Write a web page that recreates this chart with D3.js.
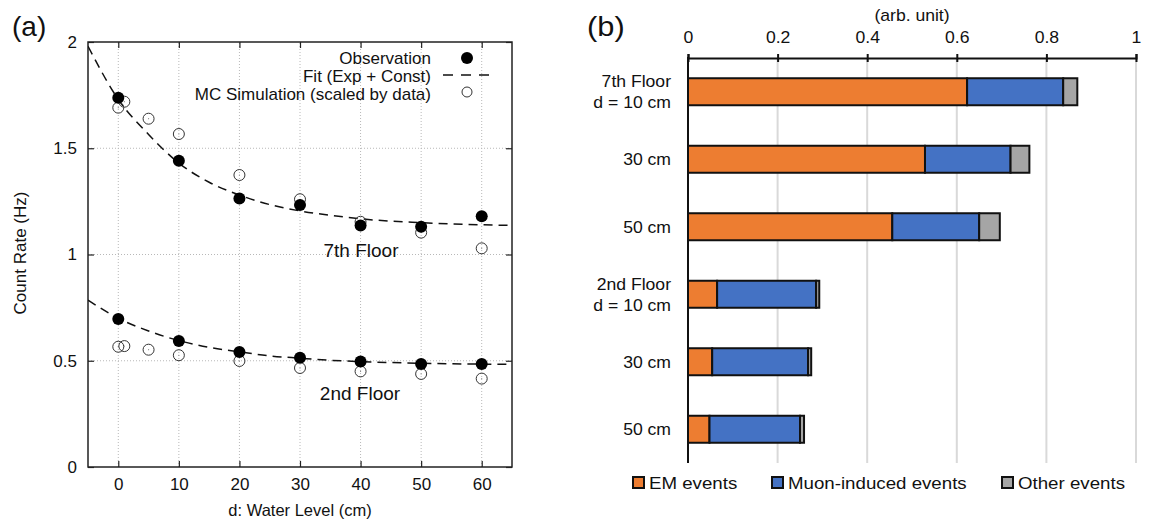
<!DOCTYPE html>
<html>
<head>
<meta charset="utf-8">
<script src="https://cdn.jsdelivr.net/npm/d3@7"></script>
<style>
    body { margin: 0; background: #fff; }
    svg { display: block; font-family: "Liberation Sans", Arial, sans-serif; }
</style>
</head>
<body>
<svg width="1151" height="520"></svg>
<script>
// panel (a): count rate vs water level
var waterLevel = [0, 10, 20, 30, 40, 50, 60];
var obs7th = [1.738, 1.441, 1.264, 1.233, 1.137, 1.131, 1.180];
var obs2nd = [0.696, 0.593, 0.541, 0.514, 0.497, 0.485, 0.485];

var mcLevel = [0, 1, 5, 10, 20, 30, 40, 50, 60];
var mc7th = [1.691, 1.719, 1.639, 1.567, 1.374, 1.260, 1.154, 1.103, 1.029];
var mc2nd = [0.566, 0.569, 0.552, 0.526, 0.499, 0.466, 0.450, 0.438, 0.416];

// fit curves
var fitLevel = [-5, 0, 5, 10, 15, 20, 25, 30, 35, 40, 50, 60, 65];
var fit7th = [1.98, 1.73, 1.565, 1.43, 1.34, 1.28, 1.235, 1.205, 1.185, 1.168, 1.15, 1.14, 1.137];
var fit2nd = [0.785, 0.70, 0.64, 0.595, 0.563, 0.542, 0.523, 0.512, 0.502, 0.496, 0.488, 0.484, 0.483];

var xTicksA = [0, 10, 20, 30, 40, 50, 60];
var yTicksA = [0, 0.5, 1, 1.5, 2];

// panel (b): event composition
var barIds = ["f7_10", "f7_30", "f7_50", "f2_10", "f2_30", "f2_50"];
var barLabels = [["7th Floor", "d = 10 cm"], ["30 cm"], ["50 cm"], ["2nd Floor", "d = 10 cm"], ["30 cm"], ["50 cm"]];
var emEvents = [0.623, 0.529, 0.456, 0.065, 0.054, 0.048];
var muonEvents = [0.2145, 0.191, 0.194, 0.221, 0.214, 0.202];
var otherEvents = [0.0315, 0.042, 0.046, 0.007, 0.007, 0.009];
var xTicksB = [0, 0.2, 0.4, 0.6, 0.8, 1];
var seriesNames = ["EM events", "Muon-induced events", "Other events"];
var seriesColors = ["#ed7d31", "#4472c4", "#a5a5a5"];

var svg = d3.select("svg");

function drawPanelA() {
    var x = d3.scaleLinear().domain([-5, 65]).range([88, 512]);
    var y = d3.scaleLinear().domain([0, 2]).range([467, 42]);
    var g = svg.append("g");

    // dotted grid
    g.append("g").selectAll("line").data(xTicksA).enter().append("line")
        .attr("x1", function (d) { return x(d); }).attr("x2", function (d) { return x(d); })
        .attr("y1", y(0)).attr("y2", y(2))
        .attr("stroke", "#b8b8b8").attr("stroke-width", 1).attr("stroke-dasharray", "1,2");
    g.append("g").selectAll("line").data([0.5, 1, 1.5]).enter().append("line")
        .attr("x1", x(-5)).attr("x2", x(65))
        .attr("y1", function (d) { return y(d); }).attr("y2", function (d) { return y(d); })
        .attr("stroke", "#b8b8b8").attr("stroke-width", 1).attr("stroke-dasharray", "1,2");

    // axes with inward ticks on all sides
    var left = g.append("g").attr("transform", "translate(" + x(-5) + ",0)")
        .call(d3.axisLeft(y).tickValues(yTicksA).tickSize(-6).tickPadding(11).tickFormat(d3.format("~g")));
    var right = g.append("g").attr("transform", "translate(" + x(65) + ",0)")
        .call(d3.axisRight(y).tickValues(yTicksA).tickSize(-6).tickFormat(""));
    var bottom = g.append("g").attr("transform", "translate(0," + y(0) + ")")
        .call(d3.axisBottom(x).tickValues(xTicksA).tickSize(-6).tickPadding(11));
    var top = g.append("g").attr("transform", "translate(0," + y(2) + ")")
        .call(d3.axisTop(x).tickValues(xTicksA).tickSize(-6).tickFormat(""));
    [left, right, bottom, top].forEach(function (a) {
        a.select(".domain").remove();
        a.selectAll("line").attr("stroke", "#222").attr("stroke-width", 1.2);
        a.selectAll("text").attr("font-size", 17).attr("fill", "#111").attr("font-family", null);
    });

    g.append("rect")
        .attr("x", x(-5)).attr("y", y(2))
        .attr("width", x(65) - x(-5)).attr("height", y(0) - y(2))
        .attr("fill", "none").attr("stroke", "#222").attr("stroke-width", 1.5);

    // fits
    svg.append("clipPath").attr("id", "clipA").append("rect")
        .attr("x", x(-5)).attr("y", y(2)).attr("width", x(65) - x(-5)).attr("height", y(0) - y(2));
    var line = d3.line()
        .x(function (d) { return x(d[0]); })
        .y(function (d) { return y(d[1]); })
        .curve(d3.curveMonotoneX);
    [fit7th, fit2nd].forEach(function (fit) {
        g.append("path")
            .datum(d3.zip(fitLevel, fit))
            .attr("clip-path", "url(#clipA)")
            .attr("fill", "none").attr("stroke", "#111").attr("stroke-width", 1.5)
            .attr("stroke-dasharray", "9,6")
            .attr("d", line);
    });

    // MC points (open)
    [mc7th, mc2nd].forEach(function (mc) {
        var pts = g.append("g").selectAll("g").data(d3.zip(mcLevel, mc)).enter().append("g");
        pts.append("circle")
            .attr("cx", function (d) { return x(d[0]); }).attr("cy", function (d) { return y(d[1]); })
            .attr("r", 5.5).attr("fill", "none").attr("stroke", "#333").attr("stroke-width", 1);
        pts.append("circle")
            .attr("cx", function (d) { return x(d[0]); }).attr("cy", function (d) { return y(d[1]); })
            .attr("r", 0.6).attr("fill", "#888");
    });

    // observation points (filled)
    [obs7th, obs2nd].forEach(function (obs) {
        g.append("g").selectAll("circle").data(d3.zip(waterLevel, obs)).enter().append("circle")
            .attr("cx", function (d) { return x(d[0]); }).attr("cy", function (d) { return y(d[1]); })
            .attr("r", 6).attr("fill", "#000");
    });

    // legend
    var legend = g.append("g").attr("font-size", 17).attr("fill", "#111").attr("text-anchor", "end");
    legend.append("text").attr("x", 431).attr("y", 64).text("Observation");
    legend.append("text").attr("x", 431).attr("y", 82).text("Fit (Exp + Const)");
    legend.append("text").attr("x", 431).attr("y", 100).text("MC Simulation (scaled by data)");
    legend.append("circle").attr("cx", 467).attr("cy", 58).attr("r", 6).attr("fill", "#000");
    legend.append("line").attr("x1", 443).attr("x2", 491).attr("y1", 75).attr("y2", 75)
        .attr("stroke", "#111").attr("stroke-width", 1.5).attr("stroke-dasharray", "10,8");
    legend.append("circle").attr("cx", 467).attr("cy", 92).attr("r", 5).attr("fill", "none")
        .attr("stroke", "#333").attr("stroke-width", 1);

    g.append("text").attr("x", 361).attr("y", 257).attr("font-size", 19).attr("text-anchor", "middle")
        .attr("fill", "#111").text("7th Floor");
    g.append("text").attr("x", 360).attr("y", 400).attr("font-size", 19).attr("text-anchor", "middle")
        .attr("fill", "#111").text("2nd Floor");

    // axis titles
    g.append("text").attr("x", 300).attr("y", 516).attr("font-size", 16.5).attr("text-anchor", "middle")
        .attr("fill", "#111").text("d: Water Level (cm)");
    g.append("text").attr("transform", "translate(26,253) rotate(-90)").attr("font-size", 17)
        .attr("text-anchor", "middle").attr("fill", "#111").text("Count Rate (Hz)");

    g.append("text").attr("x", 12).attr("y", 36).attr("font-size", 28).attr("fill", "#111").text("(a)");
}

function stretched(sel, x, y) {
    return sel.attr("transform", "translate(" + x + "," + y + ") scale(1.1,1)");
}

function drawPanelB() {
    var x = d3.scaleLinear().domain([0, 1]).range([688, 1136]);
    var y = d3.scaleBand().domain(barIds).range([58, 463]).paddingInner(0.6).paddingOuter(0.3);
    var g = svg.append("g");

    // light vertical grid
    g.append("g").selectAll("line").data(xTicksB.slice(1)).enter().append("line")
        .attr("x1", function (d) { return x(d); }).attr("x2", function (d) { return x(d); })
        .attr("y1", 58).attr("y2", 463)
        .attr("stroke", "#d9d9d9").attr("stroke-width", 2);

    var table = barIds.map(function (id, i) {
        return {id: id, em: emEvents[i], muon: muonEvents[i], other: otherEvents[i]};
    });
    var stack = d3.stack().keys(["em", "muon", "other"])(table);

    g.append("g").selectAll("g").data(stack).enter().append("g")
        .attr("fill", function (d, i) { return seriesColors[i]; })
        .selectAll("rect").data(function (d) { return d; }).enter().append("rect")
        .attr("x", function (d) { return x(d[0]); })
        .attr("y", function (d) { return y(d.data.id); })
        .attr("width", function (d) { return x(d[1]) - x(d[0]); })
        .attr("height", y.bandwidth())
        .attr("stroke", "#111").attr("stroke-width", 2);

    // top axis
    var axis = g.append("g").attr("transform", "translate(0,58)")
        .call(d3.axisTop(x).tickValues(xTicksB).tickSize(4).tickPadding(11).tickFormat(d3.format("~g")));
    axis.select(".domain").attr("stroke", "#111").attr("stroke-width", 2);
    axis.selectAll(".tick line").attr("y1", 4).attr("y2", -4).attr("stroke", "#111").attr("stroke-width", 2);
    axis.selectAll("text").attr("font-size", 16).attr("fill", "#111").attr("font-family", null)
        .attr("transform", "scale(1.1,1)");

    g.append("line").attr("x1", x(0)).attr("x2", x(0)).attr("y1", 57).attr("y2", 463)
        .attr("stroke", "#111").attr("stroke-width", 2);

    stretched(g.append("text"), x(0.5), 21).attr("font-size", 16).attr("text-anchor", "middle")
        .attr("fill", "#111").text("(arb. unit)");

    // category labels
    barIds.forEach(function (id, i) {
        var cy = y(id) + y.bandwidth() / 2;
        var lines = barLabels[i];
        lines.forEach(function (t, j) {
            var off = lines.length === 1 ? 6 : (j === 0 ? -4.5 : 16.5);
            stretched(g.append("text"), 671, cy + off).attr("font-size", 16).attr("text-anchor", "end")
                .attr("fill", "#111").text(t);
        });
    });

    // legend
    var lx = [633, 772, 1002];
    seriesNames.forEach(function (name, i) {
        g.append("rect").attr("x", lx[i]).attr("y", 477).attr("width", 11).attr("height", 11)
            .attr("fill", seriesColors[i]).attr("stroke", "#111").attr("stroke-width", 2);
        stretched(g.append("text"), lx[i] + 16, 489).attr("font-size", 17).attr("fill", "#111").text(name);
    });

    stretched(g.append("text"), 587, 36).attr("font-size", 28).attr("fill", "#111").text("(b)");
}

drawPanelA();
drawPanelB();
</script>
</body>
</html>
